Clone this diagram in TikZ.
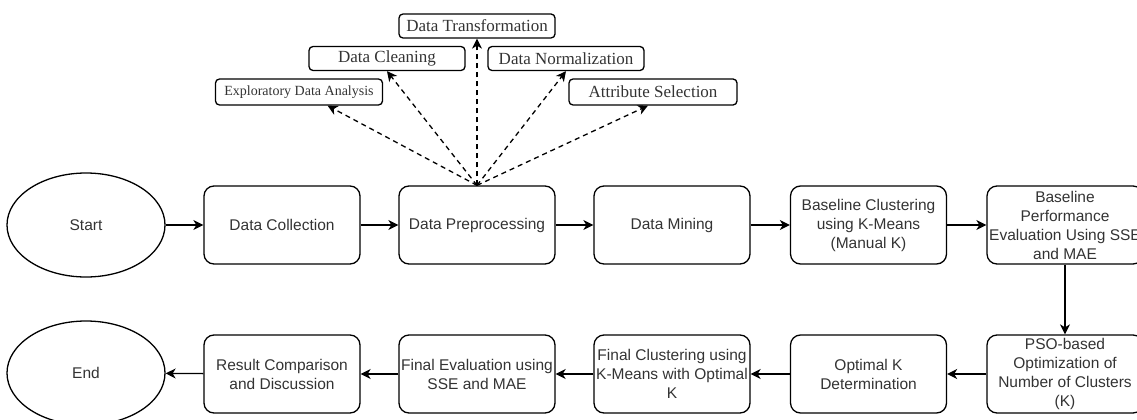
\documentclass[tikz,border=0pt]{standalone}
\usepackage{fontspec}
\setmainfont{Liberation Serif}
\setsansfont{Liberation Sans}
\usetikzlibrary{arrows.meta,shapes.geometric,calc}
\definecolor{txt}{HTML}{333333}
\tikzset{
  flowbox/.style={draw=black, line width=1.3pt, rounded corners=10pt, minimum width=156pt, minimum height=78pt, inner sep=1pt, align=center, font=\sffamily\fontsize{15.5}{19}\selectfont, text=txt},
  term/.style={draw=black, line width=1.3pt, ellipse, minimum width=158pt, minimum height=104pt, inner sep=0pt, font=\sffamily\fontsize{15.5}{19}\selectfont, text=txt},
  subbox/.style={draw=black, line width=1.3pt, rounded corners=4pt, minimum width=156pt, minimum height=24pt, inner sep=1pt, font=\rmfamily\fontsize{17}{20}\selectfont, text=txt},
  flow/.style={line width=1.3pt, -{Stealth[length=10pt,width=10pt,inset=3pt]}},
  dflow/.style={line width=1.3pt, dash pattern=on 5pt off 4pt, -{Stealth[length=10pt,width=10pt,inset=3pt]}}
}
\begin{document}
\begin{tikzpicture}[x=1pt,y=-1pt]
\useasboundingbox (0,0) rectangle (1137,420);
% row 1
\node[term] (start) at (86,225) {Start};
\node[flowbox] (dc) at (282,225) {Data Collection};
\node[flowbox] (dp) at (477,225) {Data Preprocessing};
\node[flowbox] (dm) at (672,225) {Data Mining};
\node[flowbox] (bc) at (868.5,225) {Baseline Clustering\\using K-Means\\(Manual K)};
\node[flowbox] (bp) at (1065,225) {Baseline\\Performance\\Evaluation Using SSE\\and MAE};
% row 2
\node[term] (end) at (86,373) {End};
\node[flowbox] (rc) at (282,374) {Result Comparison\\and Discussion};
\node[flowbox] (fe) at (477,374) {Final Evaluation using\\SSE and MAE};
\node[flowbox] (fc) at (672,374) {Final Clustering using\\K-Means with Optimal\\K};
\node[flowbox] (ok) at (868.5,374) {Optimal K\\Determination};
\node[flowbox] (pso) at (1065,374) {PSO-based\\Optimization of\\Number of Clusters\\(K)};
% sub-steps
\node[subbox] (dt) at (477,26) {Data Transformation};
\node[subbox] (dcl) at (387,58.5) {Data Cleaning};
\node[subbox] (dn) at (566,58.5) {Data Normalization};
\node[subbox, minimum width=167pt, minimum height=26pt, font=\rmfamily\fontsize{14}{17}\selectfont] (eda) at (299,92) {Exploratory Data Analysis};
\node[subbox, minimum width=168pt, minimum height=26pt] (as) at (653,92) {Attribute Selection};
% connectors
\draw[flow] (start) -- (dc);
\draw[flow] (dc) -- (dp);
\draw[flow] (dp) -- (dm);
\draw[flow] (dm) -- (bc);
\draw[flow] (bc) -- (bp);
\draw[flow] (bp) -- (pso);
\draw[flow] (pso) -- (ok);
\draw[flow] (ok) -- (fc);
\draw[flow] (fc) -- (fe);
\draw[flow] (fe) -- (rc);
\draw[flow] (rc) -- (end);
\draw[dflow] (dp.north) -- ($(eda.south west)!0.67!(eda.south east)$);
\draw[dflow] (dp.north) -- (dcl.south);
\draw[dflow] (dp.north) -- (dt.south);
\draw[dflow] (dp.north) -- (dn.south);
\draw[dflow] (dp.north) -- ($(as.south west)!0.47!(as.south east)$);
\end{tikzpicture}
\end{document}
